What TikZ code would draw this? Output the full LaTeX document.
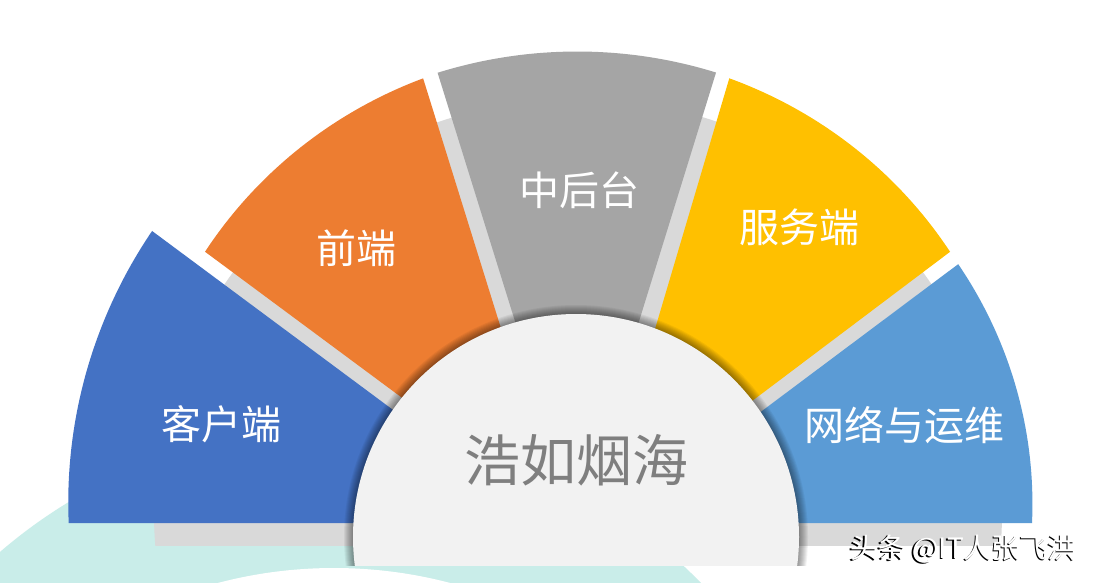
\documentclass[tikz,border=0pt]{standalone}
\usepackage{fontspec}
\newfontfamily\cjk{Noto Sans CJK SC}
\definecolor{pieceBlue}{HTML}{4472C4}
\definecolor{pieceOrange}{HTML}{ED7D31}
\definecolor{pieceGray}{HTML}{A5A5A5}
\definecolor{pieceYellow}{HTML}{FFC000}
\definecolor{pieceSky}{HTML}{5B9BD5}
\definecolor{baseGray}{HTML}{D9D9D9}
\definecolor{hubGray}{HTML}{F2F2F2}
\definecolor{hubText}{HTML}{7F7F7F}
\definecolor{tealBg}{HTML}{C9EDE9}
% #1 colour, #2 cx, #3 cy, #4 a1, #5 a2, #6 r1, #7 r2
\newcommand\fanpiece[7]{%
  \fill[#1] (#2,#3) -- plot[domain=#4:#5, samples=80]
    ({#2+(#6+(#7-#6)*(\x-#4)/(#5-#4))*cos(\x)},
     {#3-(#6+(#7-#6)*(\x-#4)/(#5-#4))*sin(\x)}) -- cycle;}
\tikzset{
  lbl/.style={text=white, font=\cjk\fontsize{40}{48}\selectfont, inner sep=0pt},
  hublbl/.style={text=hubText, font=\cjk\fontsize{56}{66}\selectfont, inner sep=0pt},
  wmark/.style={text=white, font=\cjk\fontsize{28}{34}\selectfont, inner sep=0pt},
  wmshadow/.style={text=black, font=\cjk\fontsize{28}{34}\selectfont, inner sep=0pt}
}
\begin{document}
\begin{tikzpicture}[x=1pt, y=-1pt]
\useasboundingbox (0,0) rectangle (1094,582);
\fill[white] (0,0) rectangle (1094,582);
% teal background ring
\begin{scope}
  \clip (0,0) rectangle (1094,582);
  \fill[tealBg] (334,940) circle[radius=512pt];
  \fill[white] (334,1023) circle[radius=455pt];
\end{scope}
% base gray half disc
\begin{scope}
  \clip (0,0) rectangle (1094,545);
  \fill[baseGray] (578,513) ellipse[x radius=424pt, y radius=414pt];
\end{scope}
% fan pieces
\fanpiece{pieceBlue}{545.3}{523}{143.4}{180}{489.8}{476.6}
\fanpiece{pieceOrange}{558.8}{514}{107.3}{143.45}{456.3}{440.4}
\fanpiece{pieceGray}{577.2}{521}{72.8}{107.3}{469.5}{469.5}
\fanpiece{pieceYellow}{599.7}{515.8}{37.0}{73.5}{438.7}{456.3}
\fanpiece{pieceSky}{612.2}{523}{0}{36.8}{419.8}{432.1}
% hub with soft shadow
\begin{scope}
  \clip (0,0) rectangle (1094,565);
  \foreach \k in {1,...,9} {
    \fill[black, opacity=0.05] (576,537) circle[radius={(223+\k)*1pt}];
  }
  \fill[hubGray] (576,537) circle[radius=223pt];
\end{scope}
% labels
\node[lbl] (kehu) at (221.5,424) {客户端};
\node[lbl] (qian) at (356.7,248) {前端};
\node[lbl] (zhong) at (579,190.5) {中后台};
\node[lbl] (fuwu) at (799,227) {服务端};
\node[lbl] (wangluo) at (904.7,424.7) {网络与运维};
\node[hublbl] (hub) at (576.3,460.7) {浩如烟海};
\node[wmshadow] (wms) at (961.5,550.5) {头条 @IT人张飞洪};
\node[wmark] (wm) at (963,549) {头条 @IT人张飞洪};
\end{tikzpicture}
\end{document}
